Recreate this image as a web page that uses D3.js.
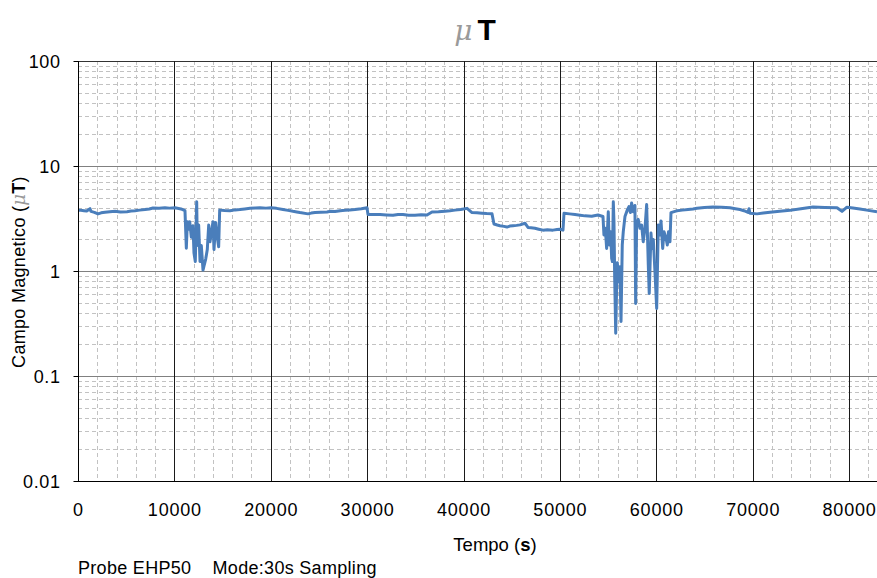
<!DOCTYPE html>
<html><head><meta charset="utf-8">
<script src="https://cdn.jsdelivr.net/npm/d3@7"></script>
<style>
body{margin:0;background:#fff}
svg{display:block}
text{font-family:"Liberation Sans",Arial,sans-serif;fill:#000}
</style>
</head><body>
<svg id="c" width="877" height="578"></svg>
<script>
// ---- data (time in s, field in µT) ----
const times = [
  0, 300, 620, 900, 1245, 1350, 1700, 2075, 2400, 2800, 3300, 3840, 4400, 5085, 5500, 5915, 6400, 6950, 7400, 7780, 8400, 9025, 9500, 10064, 10686, 11100,
  11240, 11345, 11485, 11590, 11760, 11930, 12035, 12170, 12315, 12380, 12520, 12660, 12795, 12970, 13075, 13250, 13415, 13560, 13695, 13830, 14005, 14110, 14285, 14420, 14595, 14700,
  15200, 15770, 16300, 16810, 17300, 17845, 18400, 18880, 19500, 20025, 20600, 21270, 21800, 22305, 22700, 23030, 23860, 24200, 24590, 25200, 25835, 26200, 26665, 27200, 27700, 28200, 28740, 29400, 29985,
  30090, 30700, 31335, 32000, 32680, 33200, 33720, 34300, 34965, 35600, 36210, 36730, 37400, 38075, 38600, 39115, 39700, 40360,
  40880, 41400, 41915, 42400, 42955, 43160, 43500, 43780, 44200, 44510, 44800, 45130, 45500, 45860, 46375, 46690, 47000, 47410, 47800, 48240, 48700, 49280, 49700, 50010, 50320,
  50425, 51000, 51565, 52100, 52600, 53300, 53950,
  54470, 54570, 54710, 54850, 55020, 55120, 55265, 55370, 55450, 55540, 55610, 55685, 55790, 55870, 55955, 56060, 56130, 56235, 56340, 56470, 56575, 56750, 56990, 57165, 57320, 57440, 57610, 57785, 57860, 57960,
  58130, 58305, 58480, 58645, 58825, 59000, 59170, 59270, 59450, 59555, 59690, 59865, 60040, 60210, 60385, 60490, 60665, 60800, 61010, 61145, 61270, 61420, 61525, 61940,
  62150, 62700, 63290, 63800, 64220, 65000, 65880, 66800, 67650, 68200, 68680, 69100, 69510, 69620, 69720, 70450, 71100, 71800, 72800, 73870, 75000, 76260, 77500, 78750, 79270, 79780, 80400, 81130, 82000, 82900
];
const values = [
  3.80, 3.78, 3.75, 3.72, 3.92, 3.70, 3.62, 3.50, 3.58, 3.62, 3.66, 3.70, 3.64, 3.67, 3.72, 3.75, 3.80, 3.85, 3.90, 3.98, 3.95, 4.00, 3.97, 4.00, 3.90, 3.75,
  1.65, 2.95, 2.50, 2.95, 2.10, 2.70, 1.48, 1.23, 4.57, 1.75, 2.74, 1.23, 1.75, 1.02, 1.12, 1.30, 1.60, 2.74, 1.90, 2.30, 2.95, 1.60, 2.90, 2.20, 1.70, 3.80,
  3.76, 3.75, 3.82, 3.85, 3.90, 3.95, 3.98, 4.00, 3.97, 4.00, 3.95, 3.85, 3.78, 3.70, 3.65, 3.60, 3.50, 3.56, 3.60, 3.62, 3.65, 3.70, 3.68, 3.75, 3.78, 3.82, 3.85, 3.92, 4.00,
  3.45, 3.46, 3.45, 3.42, 3.40, 3.46, 3.45, 3.40, 3.40, 3.44, 3.42, 3.65, 3.66, 3.70, 3.74, 3.80, 3.85, 3.95,
  3.60, 3.58, 3.55, 3.52, 3.50, 2.80, 2.74, 2.70, 2.66, 2.62, 2.68, 2.70, 2.72, 2.75, 2.85, 2.60, 2.58, 2.55, 2.50, 2.45, 2.47, 2.45, 2.48, 2.50, 2.45,
  3.55, 3.50, 3.45, 3.40, 3.35, 3.32, 3.41,
  3.30, 2.20, 2.55, 1.64, 3.67, 1.77, 2.37, 1.32, 1.23, 4.57, 2.95, 0.85, 0.255, 0.60, 1.20, 0.90, 0.79, 1.10, 0.33, 1.77, 2.37, 3.30, 3.80, 4.10, 3.60, 4.44, 3.67, 4.20, 0.49, 2.74,
  3.10, 2.55, 2.74, 1.90, 2.55, 4.30, 1.14, 0.61, 2.30, 1.64, 2.00, 0.98, 0.44, 2.74, 2.20, 3.00, 1.64, 2.37, 2.05, 1.77, 2.37, 1.90, 3.60, 3.70,
  3.75, 3.80, 3.85, 3.90, 3.95, 4.02, 4.08, 4.04, 4.00, 3.92, 3.85, 3.75, 3.62, 3.92, 3.55, 3.50, 3.56, 3.62, 3.70, 3.78, 3.92, 4.06, 4.02, 4.00, 3.70, 4.05, 3.98, 3.90, 3.78, 3.67
];
const xTickValues = [0, 10000, 20000, 30000, 40000, 50000, 60000, 70000, 80000];
const yTickValues = [0.01, 0.1, 1, 10, 100];
const xMax = 82900;
const xLabel = "Tempo (", xLabelUnit = "s", xLabelEnd = ")";
const yLabel = "Campo Magnetico (";
const footnote = "Probe EHP50\u00a0\u00a0\u00a0\u00a0Mode:30s Sampling";

// ---- layout ----
const L = 78, R = 877, T = 61, B = 481;
const svg = d3.select("#c");
const x = d3.scaleLinear().domain([0, xMax]).range([L, R]);
const y = d3.scaleLog().domain([0.01, 100]).range([B, T]);
const px = v => Math.round(v) + 0.5;

// minor gridlines
const xMinor = d3.range(2000, xMax, 2000).filter(t => t % 10000 !== 0);
const yMinor = [];
[0.01, 0.1, 1, 10].forEach(d => { for (let k = 2; k <= 9; k++) yMinor.push(+(d * k).toPrecision(3)); });

const g = svg.append("g");
g.selectAll(".ym").data(yMinor).join("line")
  .attr("x1", L).attr("x2", R).attr("y1", d => px(y(d))).attr("y2", d => px(y(d)))
  .attr("stroke", "#c2c2c2").attr("stroke-width", 1).attr("stroke-dasharray", "4,3");
g.selectAll(".xm").data(xMinor).join("line")
  .attr("x1", d => px(x(d))).attr("x2", d => px(x(d))).attr("y1", T).attr("y2", B)
  .attr("stroke", "#c2c2c2").attr("stroke-width", 1).attr("stroke-dasharray", "4,3");

// major gridlines
g.selectAll(".yM").data([0.1, 1, 10]).join("line")
  .attr("x1", L).attr("x2", R).attr("y1", d => px(y(d))).attr("y2", d => px(y(d)))
  .attr("stroke", "#808080").attr("stroke-width", 1);
g.append("line").attr("x1", L).attr("x2", R).attr("y1", px(y(100))).attr("y2", px(y(100)))
  .attr("stroke", "#333").attr("stroke-width", 1);
g.selectAll(".xM").data(xTickValues.filter(d => d > 0)).join("line")
  .attr("x1", d => px(x(d))).attr("x2", d => px(x(d))).attr("y1", T).attr("y2", B)
  .attr("stroke", "#1a1a1a").attr("stroke-width", 1);

// data line
svg.append("clipPath").attr("id", "clip").append("rect")
  .attr("x", L).attr("y", T).attr("width", R - L).attr("height", B - T);
const pts = times.map((t, i) => [t, values[i]]);
svg.append("path").datum(pts)
  .attr("clip-path", "url(#clip)")
  .attr("fill", "none").attr("stroke", "#4a7ebb").attr("stroke-width", 3)
  .attr("stroke-linejoin", "round")
  .attr("d", d3.line().x(d => x(d[0])).y(d => y(d[1])));

// axes
const yAxis = svg.append("g").attr("transform", `translate(${L + 0.5},0)`)
  .call(d3.axisLeft(y).tickValues(yTickValues).tickSize(5).tickPadding(13).tickFormat(d => String(d)));
yAxis.select(".domain").remove();
yAxis.selectAll(".tick line").attr("stroke", "#000");
yAxis.selectAll(".tick text").attr("font-size", 18).style("letter-spacing", "0.6px").attr("dy", "0.36em");

const xAxis = svg.append("g").attr("transform", `translate(0,${B})`)
  .call(d3.axisBottom(x).tickValues(xTickValues).tickSize(0).tickPadding(22).tickFormat(d => String(d)));
xAxis.select(".domain").remove();
xAxis.selectAll(".tick text").attr("font-size", 18).style("letter-spacing", "0.8px");

svg.append("line").attr("x1", L + 0.5).attr("x2", L + 0.5).attr("y1", T).attr("y2", B + 0.5)
  .attr("stroke", "#000").attr("stroke-width", 1);
svg.append("line").attr("x1", L).attr("x2", R).attr("y1", B + 0.5).attr("y2", B + 0.5)
  .attr("stroke", "#000").attr("stroke-width", 1);

// title
const title = svg.append("text").attr("x", 475).attr("y", 40).attr("text-anchor", "middle");
title.append("tspan").text("\u03bc").attr("font-size", 28).attr("font-style", "italic")
  .attr("font-family", "DejaVu Serif, serif").style("fill", "#9a9a9a");
title.append("tspan").text("T").attr("font-size", 30).attr("font-weight", "bold").attr("dx", 5);

// y label
const yl = svg.append("text").attr("transform", "translate(25,272) rotate(-90)")
  .attr("text-anchor", "middle").attr("font-size", 18).style("letter-spacing", "0.3px");
yl.append("tspan").text(yLabel);
yl.append("tspan").text("\u03bc").attr("font-style", "italic").attr("font-family", "DejaVu Serif, serif").style("fill", "#9a9a9a");
yl.append("tspan").text("T").attr("font-weight", "bold");
yl.append("tspan").text(")");

// x label
const xl = svg.append("text").attr("x", 495).attr("y", 551).attr("text-anchor", "middle").attr("font-size", 18.5);
xl.append("tspan").text(xLabel);
xl.append("tspan").text(xLabelUnit).attr("font-weight", "bold");
xl.append("tspan").text(xLabelEnd);

// footnote
svg.append("text").attr("x", 78).attr("y", 574).attr("font-size", 18).style("letter-spacing", "0.3px").text(footnote);
</script>
</body></html>
